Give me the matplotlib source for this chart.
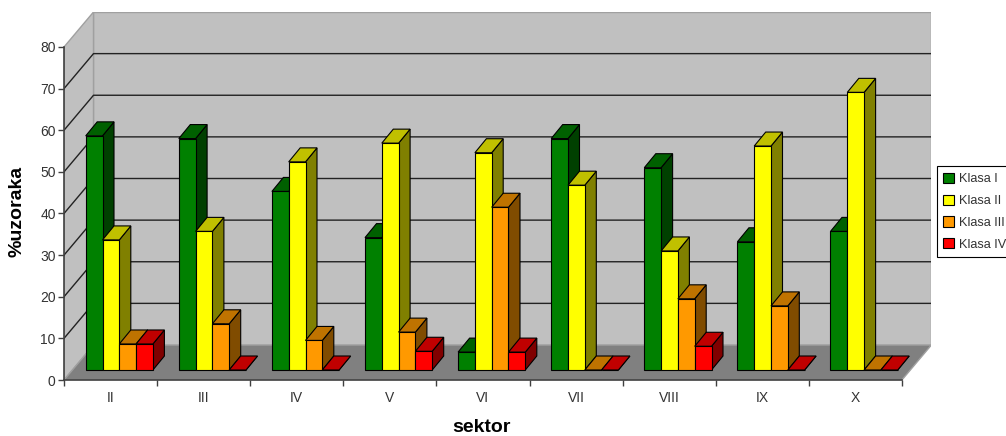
import numpy as np
import matplotlib
matplotlib.use("Agg")
import matplotlib.pyplot as plt
from matplotlib.patches import Patch, Polygon

sectors = ["II", "III", "IV", "V", "VI", "VII", "VIII", "IX", "X"]
klasa_1 = [56.25, 55.6, 42.9, 31.8, 4.3, 55.6, 48.6, 30.8, 33.3]
klasa_2 = [31.25, 33.3, 50.0, 54.5, 52.2, 44.4, 28.6, 53.8, 66.7]
klasa_3 = [6.25, 11.1, 7.1, 9.1, 39.1, 0, 17.1, 15.4, 0]
klasa_4 = [6.25, 0, 0, 4.5, 4.3, 0, 5.7, 0, 0]
names = ["Klasa I", "Klasa II", "Klasa III", "Klasa IV"]
y_ticks = [0, 10, 20, 30, 40, 50, 60, 70, 80]

front_colors = ["#008000", "#FFFF00", "#FF9900", "#FF0000"]
top_colors = ["#006000", "#C0C000", "#BF7300", "#C00000"]
side_colors = ["#004000", "#808000", "#804C00", "#800000"]

# pixel scale of the front plane, everything else derives from it
PX_X = 93.1
PX_Y = 4.1625
WALL_DX = 29.5 / PX_X
WALL_DY = 35 / PX_Y
BAR_W = 16.8 / PX_X
BAR_DX = 11.5 / PX_X
BAR_DY = 14 / PX_Y
BASE_DX = 8.5 / PX_X
BASE_DY = 10 / PX_Y
MARGIN = 13.2 / PX_X

plt.rcParams["font.family"] = ["Liberation Sans", "DejaVu Sans"]

W, H = 1006, 436
fig = plt.figure(figsize=(W / 100, H / 100), dpi=100)
ax = fig.add_axes([64 / W, (H - 380) / H, (9 * PX_X + WALL_DX * PX_X) / W, (80 * PX_Y + 35) / H])
ax.set_xlim(0, 9 + WALL_DX)
ax.set_ylim(0, 80 + WALL_DY)


def poly(points, color, edge="black", lw=0.8, z=3):
    ax.add_patch(Polygon(points, closed=True, facecolor=color, edgecolor=edge, linewidth=lw, zorder=z, joinstyle="miter"))


# walls and floor
edge_gray = "#A0A0A0"
poly([(WALL_DX, WALL_DY), (9 + WALL_DX, WALL_DY), (9 + WALL_DX, 80 + WALL_DY), (WALL_DX, 80 + WALL_DY)], "#C0C0C0", edge_gray, 1.0, 1)
poly([(0, 0), (WALL_DX, WALL_DY), (WALL_DX, 80 + WALL_DY), (0, 80)], "#C0C0C0", edge_gray, 1.0, 1)
poly([(0, 0), (9, 0), (9 + WALL_DX, WALL_DY), (WALL_DX, WALL_DY)], "#808080", edge_gray, 1.0, 1)

for v in y_ticks[1:-1]:
    ax.plot([0, WALL_DX, 9 + WALL_DX], [v, v + WALL_DY, v + WALL_DY], color="#222222", lw=1.0, zorder=2)

series = [klasa_1, klasa_2, klasa_3, klasa_4]
for i in range(len(sectors)):
    for j, values in enumerate(series):
        v = values[i]
        x0 = i + MARGIN + BASE_DX + j * BAR_W
        x1 = x0 + BAR_W
        y0 = BASE_DY
        y1 = BASE_DY + v
        poly([(x1, y0), (x1 + BAR_DX, y0 + BAR_DY), (x1 + BAR_DX, y1 + BAR_DY), (x1, y1)], side_colors[j])
        poly([(x0, y1), (x1, y1), (x1 + BAR_DX, y1 + BAR_DY), (x0 + BAR_DX, y1 + BAR_DY)], top_colors[j])
        poly([(x0, y0), (x1, y0), (x1, y1), (x0, y1)], front_colors[j])

for side in ["top", "right"]:
    ax.spines[side].set_visible(False)
for side in ["left", "bottom"]:
    ax.spines[side].set_color("#404040")
    ax.spines[side].set_linewidth(1.2)
    ax.spines[side].set_zorder(5)
ax.spines["left"].set_bounds(0, 80)
ax.spines["bottom"].set_bounds(0, 9)

ax.set_yticks(y_ticks)
ax.tick_params(axis="y", length=4, width=1.0, color="#404040", labelsize=10, pad=2, labelcolor="#333333")
ax.set_xticks(np.arange(10))
ax.set_xticklabels([])
ax.tick_params(axis="x", which="major", length=4, width=1.0, color="#404040")
ax.set_xticks(np.arange(9) + 0.5, labels=sectors, minor=True)
ax.tick_params(axis="x", which="minor", length=0, labelsize=10, pad=8, labelcolor="#333333")

fig.text(481 / W, 1 - 427 / H, "sektor", fontsize=14, fontweight="bold", ha="center", va="center")
fig.text(17 / W, 1 - 211 / H, "%uzoraka", fontsize=14, fontweight="bold", rotation=90, ha="center", va="center")

handles = [Patch(facecolor=c, edgecolor="black", linewidth=0.8) for c in front_colors]
leg = fig.legend(handles, names, loc="upper left", bbox_to_anchor=(937 / W, 1 - 166.5 / H), fontsize=9.2,
                 frameon=True, fancybox=False, framealpha=1, edgecolor="black", borderaxespad=0,
                 handlelength=0.85, handleheight=0.85, handletextpad=0.4, labelspacing=0.72,
                 borderpad=0.5, labelcolor="#333333")
leg.get_frame().set_linewidth(0.8)

fig.savefig("out.png", dpi=100)
